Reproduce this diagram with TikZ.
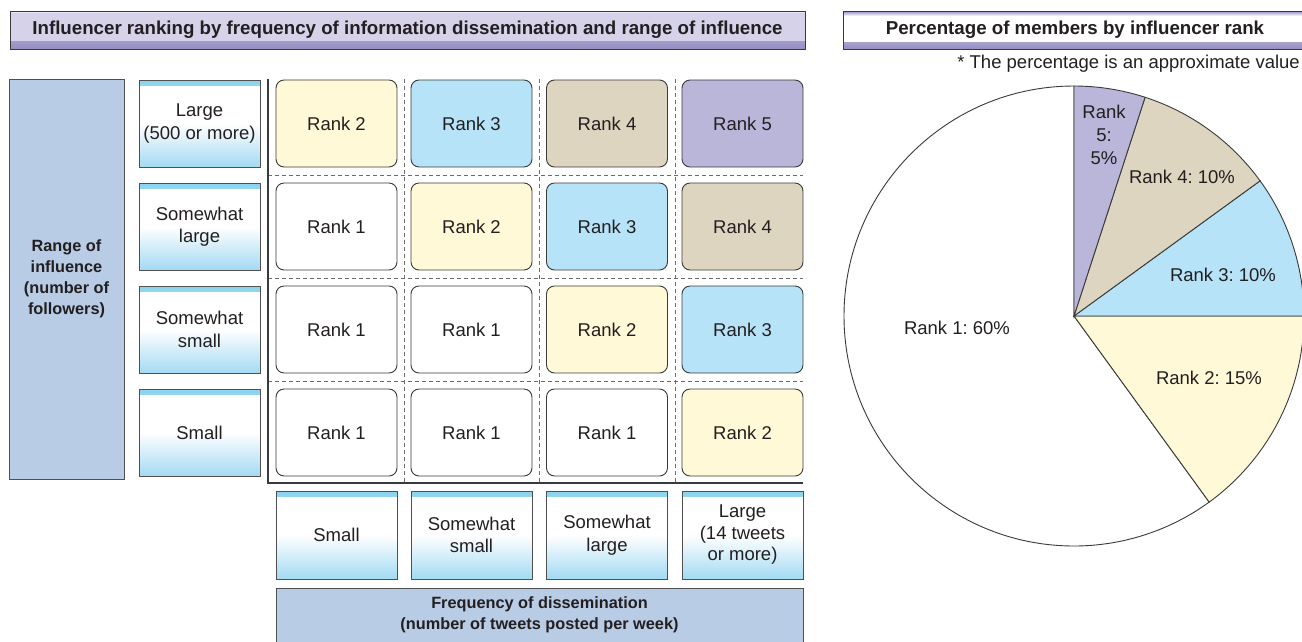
\documentclass[tikz,border=0pt]{standalone}
\usepackage{fontspec}
\setmainfont{Liberation Sans}
\usetikzlibrary{calc}
\frenchspacing

\definecolor{ink}{HTML}{231F20}
\definecolor{frame}{HTML}{3A3A3A}
\definecolor{rkyellow}{HTML}{FFF9D7}
\definecolor{rkblue}{HTML}{B6E3F7}
\definecolor{rktan}{HTML}{DDD5C0}
\definecolor{rklav}{HTML}{BAB6DA}
\definecolor{steel}{HTML}{B8CCE6}
\definecolor{lblue}{HTML}{A3DAF3}
\definecolor{ltop}{HTML}{8AD2F0}
\definecolor{tlav}{HTML}{D5D2EA}
\definecolor{tlavlight}{HTML}{E6E4F3}
\definecolor{tlavdark}{HTML}{948EC3}
\definecolor{lblline}{HTML}{505050}
\definecolor{gridgray}{HTML}{6A6A6A}

\tikzset{
  txt/.style={text=ink, font=\fontsize{18.5}{22.5}\selectfont},
  titlefont/.style={font=\bfseries\fontsize{18.7}{22}\selectfont},
  titlebar/.style={draw=frame, line width=1pt, fill=tlav, text=ink, titlefont,
    minimum height=38pt, inner sep=0pt,
    path picture={
      \shade[top color=tlav, bottom color=tlavdark]
        ([yshift=8pt]path picture bounding box.south west) rectangle (path picture bounding box.south east);
      \fill[tlavlight] (path picture bounding box.north west) rectangle ([yshift=-2pt]path picture bounding box.north east);
    }},
  titlebarwhite/.style={draw=frame, line width=1pt, fill=white, text=ink, titlefont,
    minimum height=38pt, inner sep=0pt,
    path picture={
      \shade[top color=white, bottom color=tlavdark]
        ([yshift=7pt]path picture bounding box.south west) rectangle (path picture bounding box.south east);
      \shade[top color=tlavdark, bottom color=white]
        (path picture bounding box.north west) rectangle ([yshift=-5pt]path picture bounding box.north east);
    }},
  bigbox/.style={draw=lblline, line width=0.8pt, fill=steel, text=ink,
    font=\bfseries\fontsize{16.3}{21}\selectfont, align=center, inner sep=0pt},
  axislabel/.style={txt, draw=lblline, line width=0.8pt, align=center, inner sep=0pt,
    minimum width=121pt, minimum height=87pt,
    top color=white, bottom color=lblue, middle color=white,
    path picture={
      \shade[top color=ltop, bottom color=white]
        (path picture bounding box.north west) rectangle ([yshift=-5pt]path picture bounding box.north east);
    }},
  rankbox/.style={txt, draw=frame, line width=0.9pt, rounded corners=8pt,
    minimum width=121pt, minimum height=87pt, inner sep=0pt},
  rk1/.style={rankbox, fill=white},
  rk2/.style={rankbox, fill=rkyellow},
  rk3/.style={rankbox, fill=rkblue},
  rk4/.style={rankbox, fill=rktan},
  rk5/.style={rankbox, fill=rklav},
  axisline/.style={draw=frame, line width=2pt},
  gridline/.style={draw=gridgray, line width=0.8pt, dash pattern=on 4pt off 3pt},
  pieline/.style={draw=frame, line width=0.9pt},
}

\begin{document}
\begin{tikzpicture}[x=1pt, y=-1pt]
\useasboundingbox (0,0) rectangle (1302,641);

% headings
\node[titlebar, minimum width=795pt] (title) at (407.5,30)
  {Influencer ranking by frequency of information dissemination and range of influence};
\node[titlebarwhite, minimum width=464pt] (pietitle) at (1075,30)
  {Percentage of members by influencer rank};
\node[txt, anchor=east, inner sep=0pt] (note) at (1300,64)
  {* The percentage is an approximate value};

% vertical axis caption
\node[bigbox, minimum width=115pt, minimum height=400pt] (yaxis) at (66.5,279)
  {Range of\\influence\\(number of\\followers)};

% row captions (range of influence)
\node[axislabel] (row1) at (199.5,123.5) {Large\\(500 or more)};
\node[axislabel] (row2) at (199.5,226.5) {Somewhat\\large};
\node[axislabel] (row3) at (199.5,329.5) {Somewhat\\small};
\node[axislabel] (row4) at (199.5,432.5) {Small};

% grid separators
\foreach \gx in {404,539.5,675}
  \draw[gridline] (\gx,79) -- (\gx,483);
\foreach \gy in {175,278,381}
  \draw[gridline] (268,\gy) -- (803,\gy);

% axes
\coordinate (axtop) at (268,79);
\coordinate (axorigin) at (268,483);
\coordinate (axright) at (803,483);
\draw[axisline] (axtop) -- (axorigin) -- (axright);

% rank cells
\node[rk2] (c11) at (336.5,123.5) {Rank 2};
\node[rk3] (c12) at (471.5,123.5) {Rank 3};
\node[rk4] (c13) at (607,123.5)   {Rank 4};
\node[rk5] (c14) at (742.5,123.5) {Rank 5};

\node[rk1] (c21) at (336.5,226.5) {Rank 1};
\node[rk2] (c22) at (471.5,226.5) {Rank 2};
\node[rk3] (c23) at (607,226.5)   {Rank 3};
\node[rk4] (c24) at (742.5,226.5) {Rank 4};

\node[rk1] (c31) at (336.5,329.5) {Rank 1};
\node[rk1] (c32) at (471.5,329.5) {Rank 1};
\node[rk2] (c33) at (607,329.5)   {Rank 2};
\node[rk3] (c34) at (742.5,329.5) {Rank 3};

\node[rk1] (c41) at (336.5,432.5) {Rank 1};
\node[rk1] (c42) at (471.5,432.5) {Rank 1};
\node[rk1] (c43) at (607,432.5)   {Rank 1};
\node[rk2] (c44) at (742.5,432.5) {Rank 2};

% column captions (frequency of dissemination)
\node[axislabel, minimum height=88pt] (col1) at (336.5,535) {Small};
\node[axislabel, minimum height=88pt] (col2) at (471.5,535) {Somewhat\\small};
\node[axislabel, minimum height=88pt] (col3) at (607,535)   {Somewhat\\large};
\node[axislabel, minimum height=88pt, font=\fontsize{18.5}{21.5}\selectfont] (col4) at (742.5,535) {Large\\(14 tweets\\or more)};

% horizontal axis caption
\node[bigbox, minimum width=527pt, minimum height=54pt] (xaxis) at (539.5,615)
  {Frequency of dissemination\\(number of tweets posted per week)};

% pie chart
\coordinate (pc) at (1074,316);
\filldraw[pieline, fill=white]    (pc) -- ++(90:230pt)  arc[start angle=90,  end angle=306, radius=230pt] -- cycle;
\filldraw[pieline, fill=rkyellow] (pc) -- ++(-54:230pt) arc[start angle=-54, end angle=0,   radius=230pt] -- cycle;
\filldraw[pieline, fill=rkblue]   (pc) -- ++(0:230pt)   arc[start angle=0,   end angle=36,  radius=230pt] -- cycle;
\filldraw[pieline, fill=rktan]    (pc) -- ++(36:230pt)  arc[start angle=36,  end angle=72,  radius=230pt] -- cycle;
\filldraw[pieline, fill=rklav]    (pc) -- ++(72:230pt)  arc[start angle=72,  end angle=90,  radius=230pt] -- cycle;

\node[txt, align=center, font=\fontsize{18.5}{23}\selectfont] (p5) at (1104,135) {Rank\\5:\\5\%};
\node[txt] (p4) at (1182,177) {Rank 4: 10\%};
\node[txt] (p3) at (1223,275) {Rank 3: 10\%};
\node[txt] (p2) at (1209,378) {Rank 2: 15\%};
\node[txt] (p1) at (957,328)  {Rank 1: 60\%};
\end{tikzpicture}
\end{document}
